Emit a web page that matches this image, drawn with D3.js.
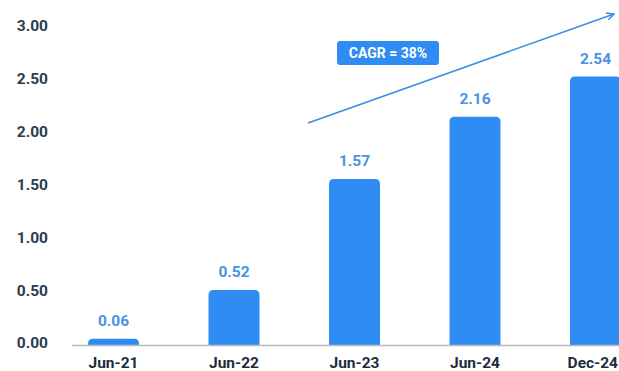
<!DOCTYPE html>
<html>
<head>
<meta charset="utf-8">
<script src="https://cdn.jsdelivr.net/npm/d3@7"></script>
<style>
  body { margin: 0; background: #fff; }
  svg { display: block; font-family: Roboto, "Noto Sans", sans-serif; }
</style>
</head>
<body>
<svg id="chart" width="619" height="371"></svg>
<script>
// chart data
const periods = ['Jun-21', 'Jun-22', 'Jun-23', 'Jun-24', 'Dec-24']
const values = [0.06, 0.52, 1.57, 2.16, 2.54]
const yTicks = [0, 0.5, 1, 1.5, 2, 2.5, 3]
const cagrText = 'CAGR = 38%'

const blue = '#2f8cf3'

function chart() {
    const svg = d3.select('#chart')

    const x = d3.scaleBand()
        .domain(periods)
        .range([88, 621])
        .paddingInner(0.577)
        .paddingOuter(0)

    const y = d3.scaleLinear()
        .domain([0, 3])
        .range([345, 28])

    // y tick labels (no axis line)
    svg.append('g')
        .selectAll('text')
        .data(yTicks)
        .join('text')
            .attr('x', 48)
            .attr('y', d => y(d) - 2)
            .attr('dy', '0.35em')
            .attr('text-anchor', 'end')
            .attr('fill', '#2b3c4f')
            .attr('font-size', 15.5)
            .attr('font-weight', 700)
            .text(d => d.toFixed(2))

    // rounded-top bars
    const r = 5
    function barPath(d, i) {
        const x0 = x(periods[i]), w = x.bandwidth()
        const top = y(d), bot = y(0)
        const rr = Math.min(r, bot - top)
        return `M${x0},${bot}V${top + rr}Q${x0},${top} ${x0 + rr},${top}` +
            `H${x0 + w - rr}Q${x0 + w},${top} ${x0 + w},${top + rr}V${bot}Z`
    }

    svg.append('g')
        .selectAll('path')
        .data(values)
        .join('path')
            .attr('d', barPath)
            .attr('fill', blue)

    // baseline
    svg.append('line')
        .attr('x1', 72).attr('x2', 619)
        .attr('y1', y(0) + 0.5).attr('y2', y(0) + 0.5)
        .attr('stroke', '#b9bcc0')
        .attr('stroke-width', 1.5)

    // value labels
    svg.append('g')
        .selectAll('text')
        .data(values)
        .join('text')
            .attr('x', (d, i) => x(periods[i]) + x.bandwidth() / 2)
            .attr('y', d => y(d) - 13)
            .attr('text-anchor', 'middle')
            .attr('fill', '#4a93e2')
            .attr('font-size', 15.5)
            .attr('font-weight', 700)
            .text(d => d.toFixed(2))

    // x labels, the last one kept inside the right edge
    svg.append('g')
        .selectAll('text')
        .data(periods)
        .join('text')
            .attr('y', 363)
            .attr('dy', '0.35em')
            .attr('text-anchor', 'middle')
            .attr('fill', '#1e2c3c')
            .attr('font-size', 15.5)
            .attr('font-weight', 700)
            .text(d => d)
            .attr('x', function(d) {
                const cx = x(d) + x.bandwidth() / 2
                const half = this.getComputedTextLength() / 2
                return Math.min(cx, 618 - half)
            })

    // CAGR trend arrow
    svg.append('defs').append('marker')
        .attr('id', 'head')
        .attr('viewBox', '0 0 10 10')
        .attr('refX', 9).attr('refY', 5)
        .attr('markerWidth', 9).attr('markerHeight', 9)
        .attr('markerUnits', 'userSpaceOnUse')
        .attr('orient', 'auto')
      .append('path')
        .attr('d', 'M1,1L9,5L1,9')
        .attr('fill', 'none')
        .attr('stroke', '#3a8de0')
        .attr('stroke-width', 1.6)

    svg.append('line')
        .attr('x1', 308).attr('y1', 123)
        .attr('x2', 614).attr('y2', 14)
        .attr('stroke', '#3a8de0')
        .attr('stroke-width', 1.6)
        .attr('marker-end', 'url(#head)')

    // CAGR badge
    svg.append('rect')
        .attr('x', 337).attr('y', 41)
        .attr('width', 102).attr('height', 24)
        .attr('rx', 3)
        .attr('fill', blue)

    svg.append('text')
        .attr('x', 388).attr('y', 53)
        .attr('dy', '0.35em')
        .attr('text-anchor', 'middle')
        .attr('fill', '#fff')
        .attr('font-size', 14)
        .attr('font-weight', 700)
        .text(cagrText)
}

chart()
</script>
</body>
</html>
